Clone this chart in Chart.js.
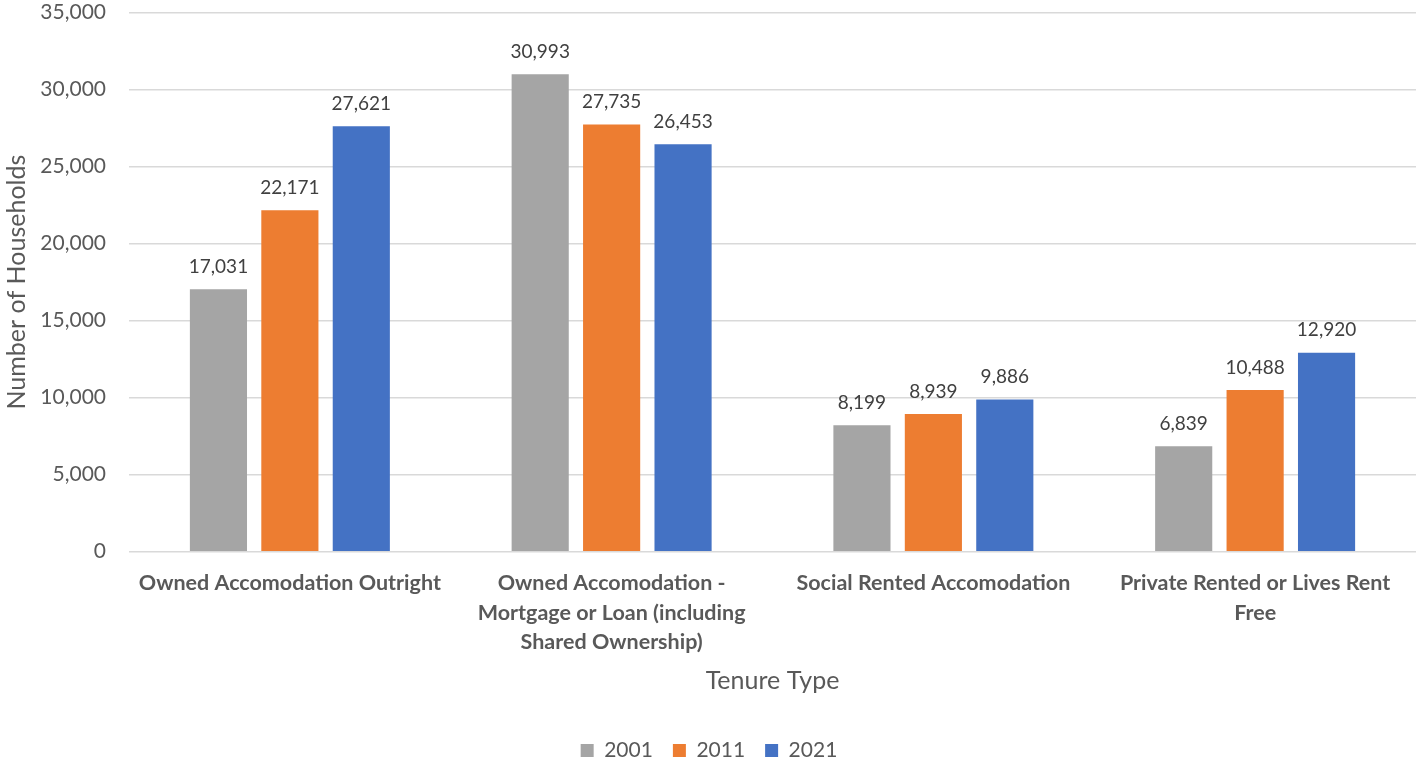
<!DOCTYPE html>
<html><head><meta charset="utf-8">
<script src="https://cdn.jsdelivr.net/npm/chart.js@4"></script>
<style>html,body{margin:0;padding:0;background:#fff}#wrap{width:1416px;height:763px}</style>
</head><body><div id="wrap"><canvas id="c" width="1416" height="763"></canvas></div>
<script>
const categories = [
  "Owned Accomodation Outright",
  ["Owned Accomodation -", "Mortgage or Loan (including", "Shared Ownership)"],
  "Social Rented Accomodation",
  ["Private Rented or Lives Rent", "Free"]
];
const seriesNames = ["2001", "2011", "2021"];
const values2001 = [17031, 30993, 8199, 6839];
const values2011 = [22171, 27735, 8939, 10488];
const values2021 = [27621, 26453, 9886, 12920];
const colors = ["#a5a5a5", "#ed7d31", "#4472c4"];

const FONT = "Lato, 'Open Sans', sans-serif";
const fmt = v => v.toLocaleString('en-US');

const labelPlugin = {
  id: 'barLabels',
  afterDatasetsDraw(chart) {
    const ctx = chart.ctx;
    ctx.save();
    ctx.font = "19px " + FONT;
    ctx.fillStyle = "#404040";
    ctx.textAlign = "center";
    ctx.textBaseline = "bottom";
    chart.data.datasets.forEach((ds, i) => {
      chart.getDatasetMeta(i).data.forEach((bar, j) => {
        ctx.fillText(fmt(ds.data[j]), bar.x, bar.y - 13);
      });
    });
    ctx.restore();
  }
};

new Chart(document.getElementById('c'), {
  type: 'bar',
  data: {
    labels: categories,
    datasets: [
      { label: seriesNames[0], data: values2001, backgroundColor: colors[0] },
      { label: seriesNames[1], data: values2011, backgroundColor: colors[1] },
      { label: seriesNames[2], data: values2021, backgroundColor: colors[2] }
    ]
  },
  options: {
    responsive: false,
    devicePixelRatio: 1,
    animation: false,
    categoryPercentage: 0.666,
    barPercentage: 0.8,
    layout: { padding: { top: 1.5, right: 0, left: 2, bottom: -8 } },
    plugins: {
      legend: {
        position: 'bottom',
        labels: { font: { size: 21, family: FONT, lineHeight: 1 }, color: '#595959', boxWidth: 13, boxHeight: 13, padding: 20 }
      },
      tooltip: { enabled: false }
    },
    scales: {
      x: {
        grid: { display: false },
        border: { display: false },
        ticks: { font: { size: 21.5, weight: 'bold', family: FONT, lineHeight: 1.37 }, color: '#595959', maxRotation: 0, autoSkip: false, padding: 9 },
        title: { display: true, text: 'Tenure Type', font: { size: 25, family: FONT, lineHeight: 1 }, color: '#595959', padding: { top: 2, bottom: 27 } }
      },
      y: {
        min: 0, max: 35000,
        afterFit: s => { s.width = 127; },
        ticks: { stepSize: 5000, callback: v => fmt(v), font: { size: 21, family: FONT }, color: '#595959', padding: 0 },
        grid: { color: '#d9d9d9', lineWidth: 1.5, drawTicks: true, tickLength: 23, tickColor: 'rgba(0,0,0,0)' },
        border: { display: false },
        title: { display: true, text: 'Number of Households', font: { size: 25, family: FONT, lineHeight: 1 }, color: '#595959', padding: { top: 2, bottom: 0 } }
      }
    }
  },
  plugins: [labelPlugin]
});
</script></body></html>
